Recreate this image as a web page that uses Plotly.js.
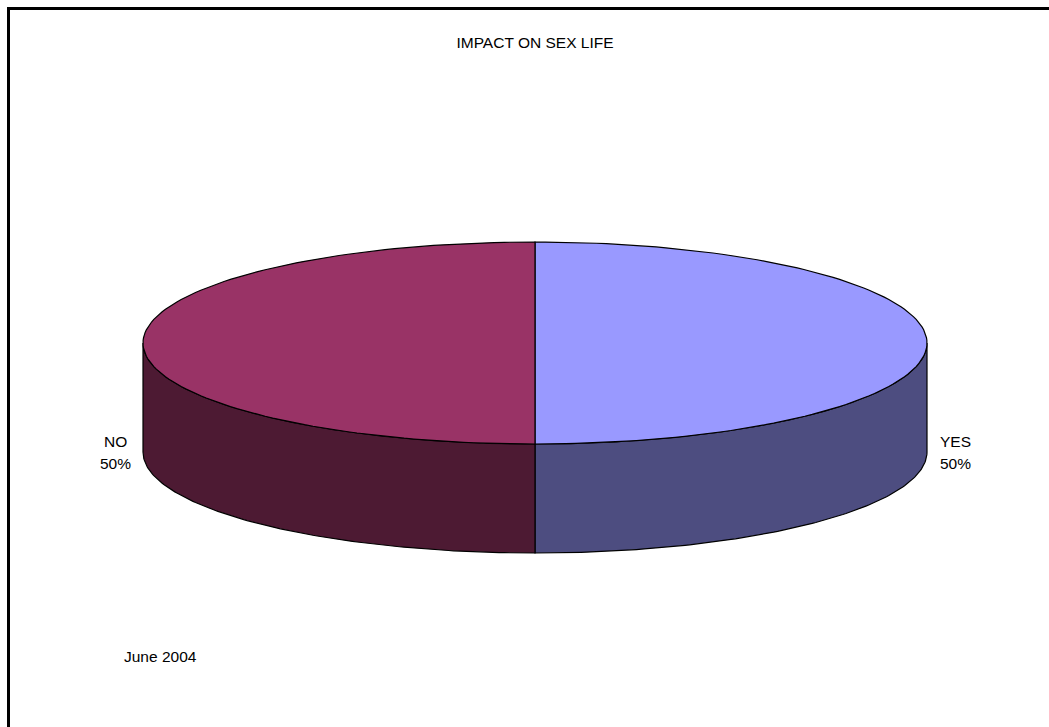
<!DOCTYPE html>
<html>
<head>
<meta charset="utf-8">
<script src="https://cdn.plot.ly/plotly-3.0.1.min.js"></script>
<style>html,body{margin:0;padding:0;background:#fff;}#chart{width:1049px;height:727px;}</style>
</head>
<body>
<div id="chart"></div>
<script>
// ---- data ----
const categories = ["YES", "NO"];
const values = [50, 50];
const topColors = ["#9999FF", "#993366"];
const sideColors = ["#4D4D80", "#4D1A33"];
const chartTitle = "IMPACT ON SEX LIFE";
const footnote = "June 2004";

// ---- geometry (layout constants) ----
const W = 1049, H = 727;
const cx = 535, cy = 343, rx = 392, ry = 101, depth = 109;
const startAngle = 0; // degrees clockwise from 12 o'clock
const FONT = "Liberation Sans, Arial, sans-serif";
const FS = 15.5;

function pt(thetaDeg, dy) {
  const t = thetaDeg * Math.PI / 180;
  return [cx + rx * Math.sin(t), cy - ry * Math.cos(t) + (dy || 0)];
}
function arc(a1, a2, dy, n) {
  const xs = [], ys = [];
  n = n || 120;
  for (let i = 0; i <= n; i++) {
    const a = a1 + (a2 - a1) * i / n;
    const p = pt(a, dy);
    xs.push(p[0]); ys.push(p[1]);
  }
  return [xs, ys];
}

const total = values.reduce((s, v) => s + v, 0);
const traces = [];
const annotations = [];
let acc = startAngle;
const slices = values.map((v, i) => {
  const a1 = acc, a2 = acc + 360 * v / total;
  acc = a2;
  return {a1, a2, i};
});

// sides (front-facing part: angles 90..270)
slices.forEach(s => {
  const lo = Math.max(s.a1, 90), hi = Math.min(s.a2, 270);
  if (hi > lo) {
    const top = arc(lo, hi, 0);
    const bot = arc(hi, lo, depth);
    const xs = top[0].concat(bot[0]); xs.push(top[0][0]);
    const ys = top[1].concat(bot[1]); ys.push(top[1][0]);
    traces.push({type: "scatter", mode: "lines", x: xs, y: ys, fill: "toself",
      fillcolor: sideColors[s.i], line: {color: "#000", width: 1.2}, hoverinfo: "skip", showlegend: false});
  }
});
// tops
slices.forEach(s => {
  const a = arc(s.a1, s.a2, 0);
  const xs = [cx].concat(a[0]).concat([cx]);
  const ys = [cy].concat(a[1]).concat([cy]);
  traces.push({type: "scatter", mode: "lines", x: xs, y: ys, fill: "toself",
    fillcolor: topColors[s.i], line: {color: "#000", width: 1.2}, hoverinfo: "skip", showlegend: false});
  // label (two lines)
  const mid = (s.a1 + s.a2) / 2;
  const p = pt(mid, depth);
  const side = Math.sin(mid * Math.PI / 180) >= 0 ? 1 : -1;
  const pct = Math.round(100 * values[s.i] / total) + "%";
  [categories[s.i], pct].forEach((t, k) => {
    annotations.push({x: p[0] + side * 28, y: p[1] + (k === 0 ? -11 : 11), xref: "x", yref: "y",
      text: t, showarrow: false, align: "center", xanchor: "center", yanchor: "middle",
      font: {family: FONT, size: FS, color: "#000"}});
  });
});

annotations.push({x: 122, y: 656, xref: "x", yref: "y", text: footnote, showarrow: false,
  xanchor: "left", yanchor: "middle",
  font: {family: FONT, size: FS, color: "#000"}});

const layout = {
  width: W, height: H,
  margin: {l: 0, r: 0, t: 0, b: 0, pad: 0},
  paper_bgcolor: "#fff", plot_bgcolor: "#fff",
  showlegend: false,
  title: {text: chartTitle, x: 535 / W, xanchor: "center", y: 1 - 43 / H, yanchor: "middle",
    font: {family: FONT, size: FS, color: "#000"}},
  xaxis: {range: [0, W], visible: false, fixedrange: true},
  yaxis: {range: [H, 0], visible: false, fixedrange: true},
  annotations: annotations,
  shapes: [
    {type: "line", xref: "x", yref: "y", x0: 8.5, x1: W + 5, y0: 8.5, y1: 8.5, line: {color: "#000", width: 3}},
    {type: "line", xref: "x", yref: "y", x0: 8.5, x1: 8.5, y0: 7, y1: H + 5, line: {color: "#000", width: 3}}
  ]
};

Plotly.newPlot("chart", traces, layout, {staticPlot: true, displayModeBar: false});
</script>
</body>
</html>
